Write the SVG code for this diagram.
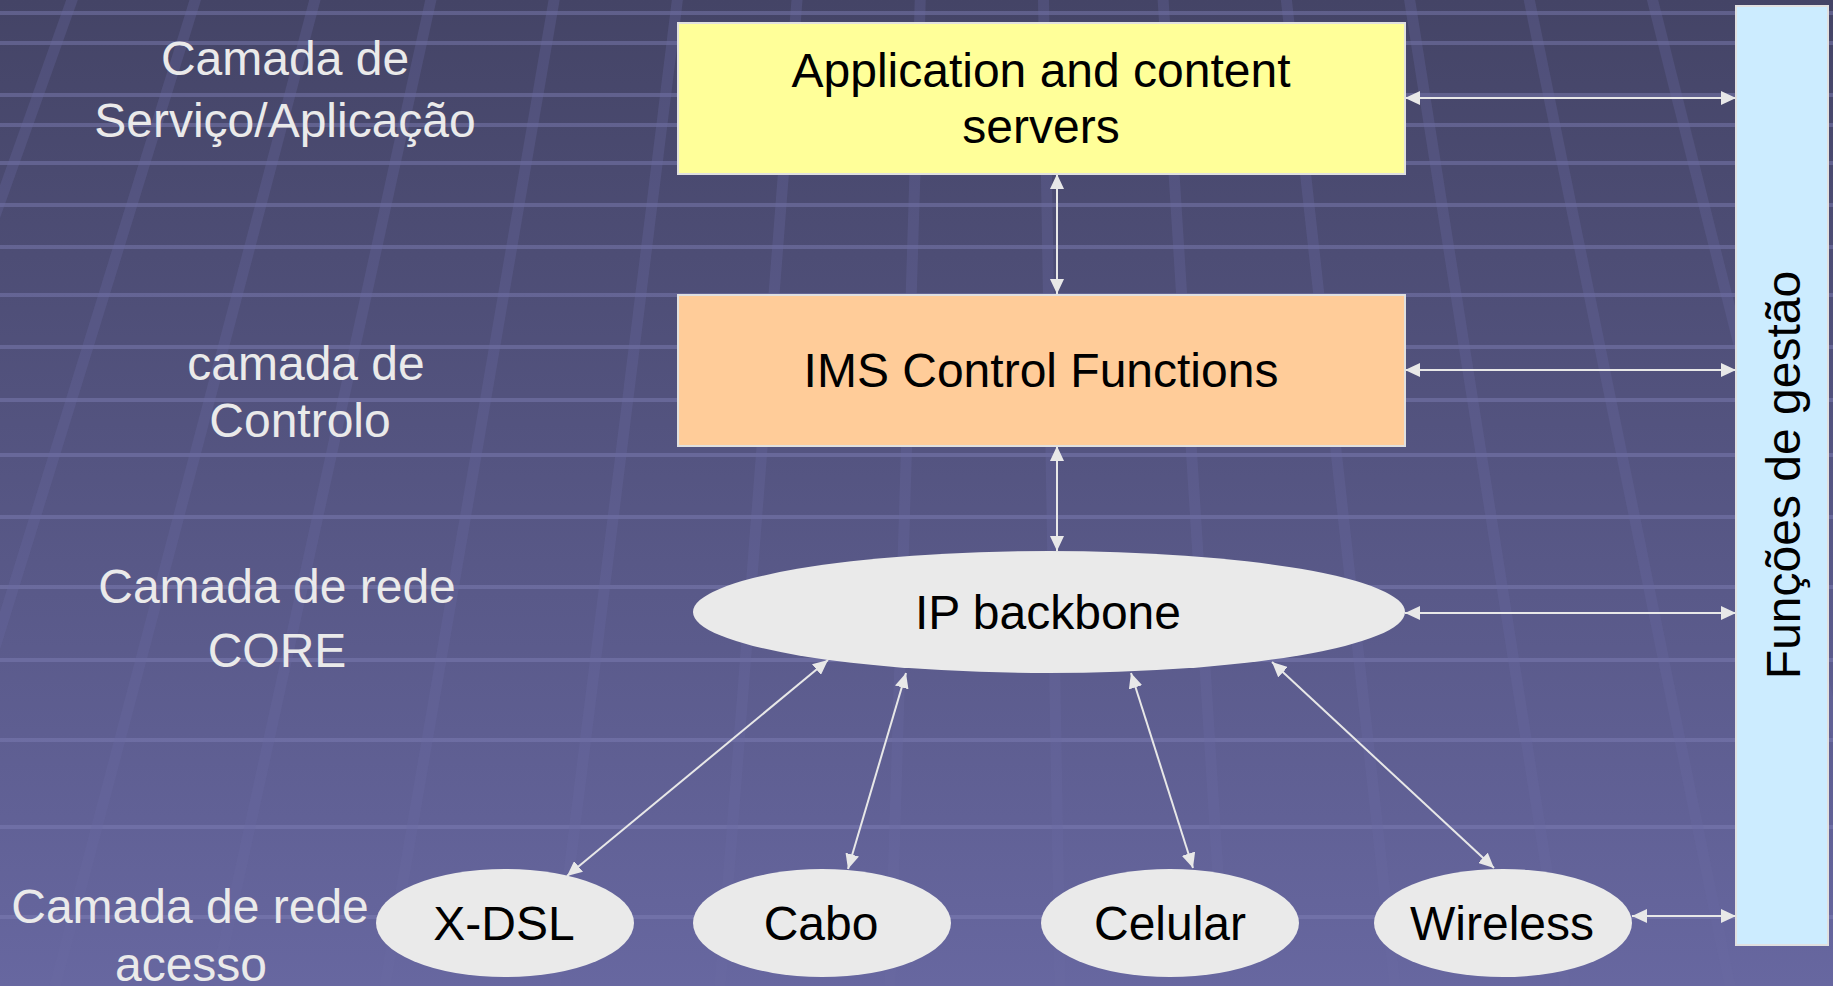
<svg xmlns="http://www.w3.org/2000/svg" width="1833" height="986" viewBox="0 0 1833 986">
<style>
.lbl{font-family:"Liberation Sans",Arial,sans-serif;font-size:48px;fill:#EAEAEA;text-anchor:middle}
.nt{font-family:"Liberation Sans",Arial,sans-serif;font-size:48px;fill:#000;text-anchor:middle}
.conn{stroke:#E8E8E8;stroke-width:2;fill:none;marker-start:url(#ah);marker-end:url(#ah)}
.hl{stroke:#8080B8;stroke-opacity:0.45;stroke-width:4}
.vl{stroke:#6A6AA2;stroke-opacity:0.3;stroke-width:11}
.box{stroke:#E0E0E0;stroke-width:2}
.ell{fill:#EAEAEA}
</style>
<defs>
<linearGradient id="bg" x1="0" y1="0" x2="0" y2="1">
<stop offset="0" stop-color="#444466"/>
<stop offset="1" stop-color="#6767A0"/>
</linearGradient>
<marker id="ah" markerUnits="userSpaceOnUse" markerWidth="15" markerHeight="14" refX="15" refY="7" orient="auto-start-reverse">
<path d="M0,0 L15,7 L0,14 z" fill="#E8E8E8"/>
</marker>
</defs>
<rect width="1833" height="986" fill="url(#bg)"/>
<g id="grid">
<line class="hl" x1="0" y1="13" x2="1833" y2="13"/>
<line class="hl" x1="0" y1="43" x2="1833" y2="43"/>
<line class="hl" x1="0" y1="95" x2="1833" y2="95"/>
<line class="hl" x1="0" y1="125" x2="1833" y2="125"/>
<line class="hl" x1="0" y1="163" x2="1833" y2="163"/>
<line class="hl" x1="0" y1="205" x2="1833" y2="205"/>
<line class="hl" x1="0" y1="247" x2="1833" y2="247"/>
<line class="hl" x1="0" y1="295" x2="1833" y2="295"/>
<line class="hl" x1="0" y1="347" x2="1833" y2="347"/>
<line class="hl" x1="0" y1="400" x2="1833" y2="400"/>
<line class="hl" x1="0" y1="455" x2="1833" y2="455"/>
<line class="hl" x1="0" y1="517" x2="1833" y2="517"/>
<line class="hl" x1="0" y1="587" x2="1833" y2="587"/>
<line class="hl" x1="0" y1="660" x2="1833" y2="660"/>
<line class="hl" x1="0" y1="740" x2="1833" y2="740"/>
<line class="hl" x1="0" y1="827" x2="1833" y2="827"/>
<line class="hl" x1="0" y1="917" x2="1833" y2="917"/>
<line class="vl" x1="1000" y1="-2600" x2="-280" y2="986"/>
<line class="vl" x1="1000" y1="-2600" x2="-110" y2="986"/>
<line class="vl" x1="1000" y1="-2600" x2="55" y2="986"/>
<line class="vl" x1="1000" y1="-2600" x2="215" y2="986"/>
<line class="vl" x1="1000" y1="-2600" x2="385" y2="986"/>
<line class="vl" x1="1000" y1="-2600" x2="555" y2="986"/>
<line class="vl" x1="1000" y1="-2600" x2="720" y2="986"/>
<line class="vl" x1="1000" y1="-2600" x2="890" y2="986"/>
<line class="vl" x1="1000" y1="-2600" x2="1060" y2="986"/>
<line class="vl" x1="1000" y1="-2600" x2="1225" y2="986"/>
<line class="vl" x1="1000" y1="-2600" x2="1395" y2="986"/>
<line class="vl" x1="1000" y1="-2600" x2="1565" y2="986"/>
<line class="vl" x1="1000" y1="-2600" x2="1730" y2="986"/>
<line class="vl" x1="1000" y1="-2600" x2="1900" y2="986"/>
</g>
<g id="labels">
<text class="lbl" x="285" y="75">Camada de</text>
<text class="lbl" x="285" y="137">Serviço/Aplicação</text>
<text class="lbl" x="306" y="380">camada de</text>
<text class="lbl" x="300" y="437">Controlo</text>
<text class="lbl" x="277" y="603">Camada de rede</text>
<text class="lbl" x="277" y="667">CORE</text>
<text class="lbl" x="190" y="923">Camada de rede</text>
<text class="lbl" x="191" y="981">acesso</text>
</g>
<g id="connectors">
<line class="conn" x1="1057" y1="174" x2="1057" y2="294"/>
<line class="conn" x1="1057" y1="446" x2="1057" y2="551"/>
<line class="conn" x1="1405" y1="98" x2="1736" y2="98"/>
<line class="conn" x1="1405" y1="370" x2="1736" y2="370"/>
<line class="conn" x1="1405" y1="613" x2="1736" y2="613"/>
<line class="conn" x1="1632" y1="916" x2="1736" y2="916"/>
<line class="conn" x1="567" y1="876" x2="828" y2="660"/>
<line class="conn" x1="848" y1="869" x2="906" y2="673"/>
<line class="conn" x1="1131" y1="673" x2="1193" y2="868"/>
<line class="conn" x1="1272" y1="662" x2="1494" y2="868"/>
</g>
<g id="app-servers">
<rect class="box" x="678" y="23" width="727" height="151" fill="#FFFF99"/>
<text class="nt" x="1041" y="87">Application and content</text>
<text class="nt" x="1041" y="143">servers</text>
</g>
<g id="ims-control">
<rect class="box" x="678" y="295" width="727" height="151" fill="#FFCC99"/>
<text class="nt" x="1041" y="387">IMS Control Functions</text>
</g>
<g id="ip-backbone">
<ellipse class="ell" cx="1049" cy="612" rx="356" ry="61"/>
<text class="nt" x="1048" y="629">IP backbone</text>
</g>
<g id="xdsl">
<ellipse class="ell" cx="505" cy="923" rx="129" ry="54"/>
<text class="nt" x="504" y="940">X-DSL</text>
</g>
<g id="cabo">
<ellipse class="ell" cx="822" cy="923" rx="129" ry="54"/>
<text class="nt" x="821" y="940">Cabo</text>
</g>
<g id="celular">
<ellipse class="ell" cx="1170" cy="923" rx="129" ry="54"/>
<text class="nt" x="1170" y="940">Celular</text>
</g>
<g id="wireless">
<ellipse class="ell" cx="1503" cy="923" rx="129" ry="54"/>
<text class="nt" x="1502" y="940">Wireless</text>
</g>
<g id="funcoes-gestao">
<rect class="box" x="1736" y="6" width="92" height="939" fill="#CCECFF"/>
<text class="nt" transform="translate(1800,475) rotate(-90)" x="0" y="0">Funções de gestão</text>
</g>
</svg>
